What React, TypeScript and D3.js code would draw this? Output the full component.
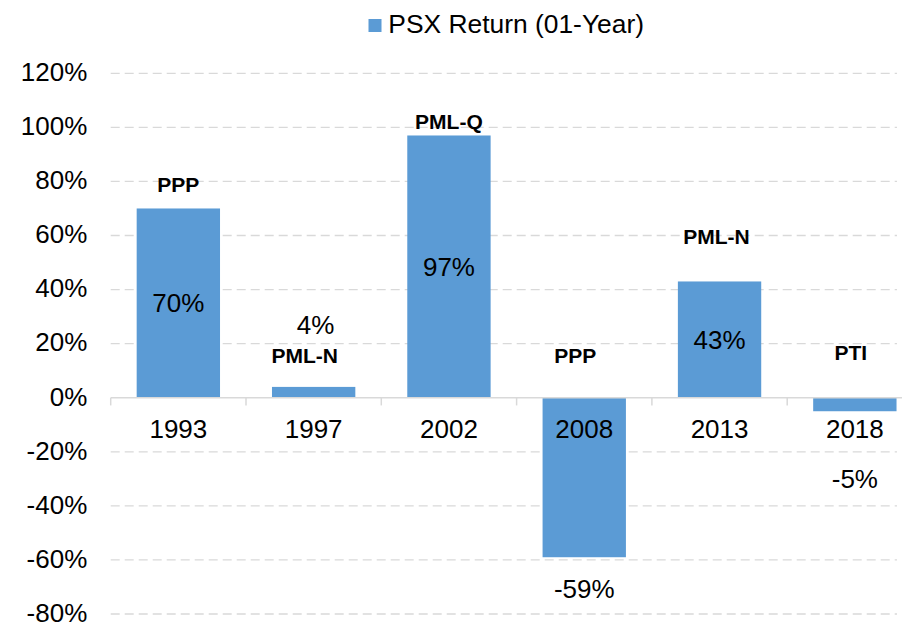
import React from "react";
import * as d3 from "d3";

// chart data
const years = ["1993", "1997", "2002", "2008", "2013", "2018"];
const psxReturn = [70, 4, 97, -59, 43, -5];
const parties = ["PPP", "PML-N", "PML-Q", "PPP", "PML-N", "PTI"];
const yTicks = [-80, -60, -40, -20, 0, 20, 40, 60, 80, 100, 120];
const seriesName = "PSX Return (01-Year)";

// where the labels sit (in % units on the y scale) – hand placed in the original
const valueLabelAt = [35, 26.9, 48.5, -70.9, 21.5, -30.2];
const partyLabelAt = [78.8, 15.4, 102.3, 15.4, 59.7, 16.6];
const partyLabelDx = [0, -9, 0, -9, -3, -4];

const W = 902;
const H = 625;
const FONT = "'Liberation Sans', Arial, sans-serif";
const BAR = "#5B9BD5";
const GRID = "#D9D9D9";

export default function App() {
  const left = 110.7;
  const gridRight = 897;

  const x = d3
    .scaleBand<string>()
    .domain(years)
    .range([left, left + 6 * 135.3])
    .paddingInner(0.384)
    .paddingOuter(0.192);

  const y = d3.scaleLinear().domain([-80, 120]).range([614, 73.3]);

  const step = x.step();
  const bw = x.bandwidth();

  return (
    <svg
      width={W}
      height={H}
      style={{ position: "absolute", left: 0, top: 0, background: "#fff" }}
      fontFamily={FONT}
    >
      {/* legend */}
      <rect x={368.5} y={19} width={13} height={13} fill={BAR} />
      <text x={388.3} y={33.3} fontSize={26.4} fill="#000">
        {seriesName}
      </text>

      {/* gridlines + y labels */}
      {yTicks.map((t) => (
        <g key={t}>
          {t !== 0 && (
            <line
              x1={left}
              x2={gridRight}
              y1={y(t)}
              y2={y(t)}
              stroke={GRID}
              strokeWidth={1.3}
              strokeDasharray="9,5"
            />
          )}
          <text
            x={87.3}
            y={y(t)}
            dy="0.3em"
            textAnchor="end"
            fontSize={26}
            fill="#000"
          >
            {t}%
          </text>
        </g>
      ))}

      {/* bars */}
      {years.map((yr, i) => {
        const v = psxReturn[i];
        return (
          <rect
            key={yr}
            x={x(yr)}
            y={y(Math.max(0, v))}
            width={bw}
            height={Math.abs(y(v) - y(0))}
            fill={BAR}
          />
        );
      })}

      {/* zero axis with tick marks at category boundaries */}
      <line x1={left} x2={W} y1={y(0)} y2={y(0)} stroke={GRID} strokeWidth={1.5} />
      {years.map((yr, i) => (
        <line
          key={"tk" + yr}
          x1={left + i * step}
          x2={left + i * step}
          y1={y(0)}
          y2={y(0) + 7.7}
          stroke={GRID}
          strokeWidth={1.5}
        />
      ))}

      {/* year labels */}
      {years.map((yr) => (
        <text
          key={"yl" + yr}
          x={(x(yr) ?? 0) + bw / 2}
          y={438.3}
          textAnchor="middle"
          fontSize={26}
          fill="#000"
        >
          {yr}
        </text>
      ))}

      {/* value labels */}
      {years.map((yr, i) => (
        <text
          key={"vl" + yr}
          x={(x(yr) ?? 0) + bw / 2 + (i === 1 ? 2 : 0)}
          y={y(valueLabelAt[i])}
          dy="0.35em"
          textAnchor="middle"
          fontSize={26}
          fill="#000"
        >
          {psxReturn[i]}%
        </text>
      ))}

      {/* party labels */}
      {years.map((yr, i) => (
        <text
          key={"pl" + yr}
          x={(x(yr) ?? 0) + bw / 2 + partyLabelDx[i]}
          y={y(partyLabelAt[i])}
          dy="0.35em"
          textAnchor="middle"
          fontSize={21}
          fontWeight="bold"
          fill="#000"
        >
          {parties[i]}
        </text>
      ))}
    </svg>
  );
}
